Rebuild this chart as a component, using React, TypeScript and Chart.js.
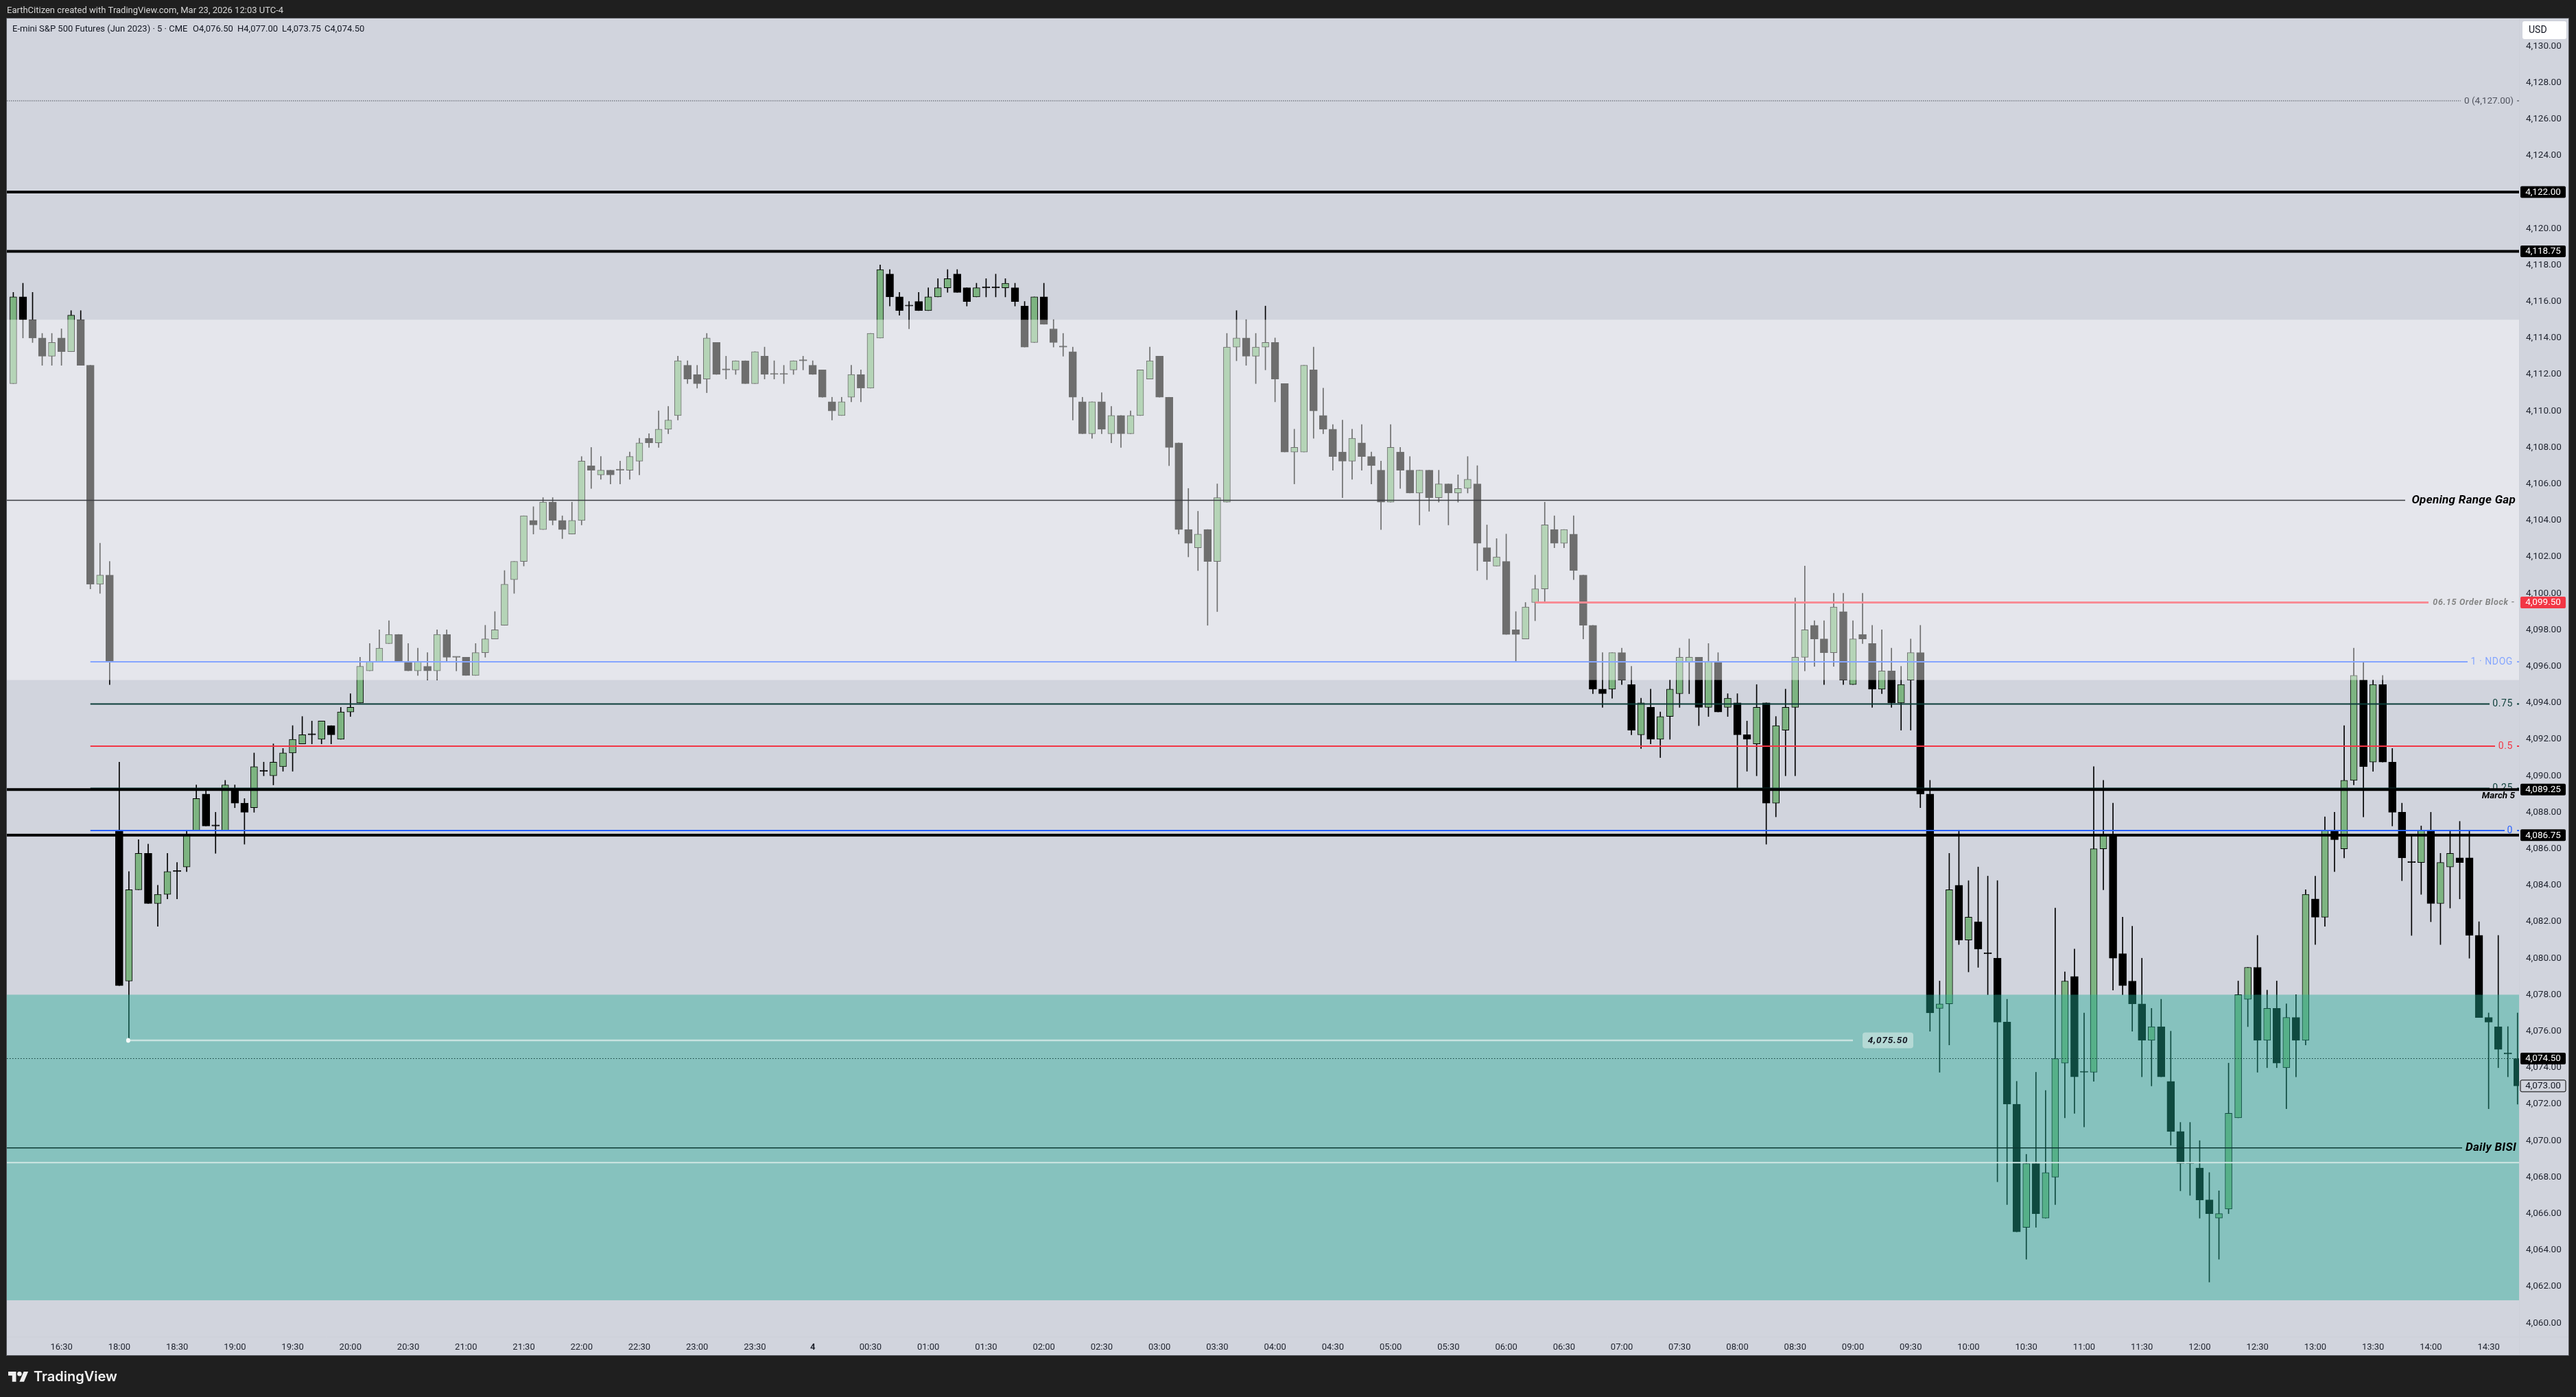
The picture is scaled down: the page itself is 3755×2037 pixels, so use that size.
import React, { useEffect, useRef } from "react";
import { Chart, registerables } from "chart.js";

Chart.register(...registerables);

const opens = [
  4111.5,4116.25,4115,4114,4113,4114,4113.25,4115,4112.5,4100.5,
  4101,4087,4078.75,4083.75,4085.75,4083,4083.5,4084.75,4085,4087,
  4089,4087.25,4087,4089.25,4088.5,4088.25,4090.25,4090,4090.5,4091.25,
  4091.75,4092.25,4092,4092.75,4092,4093.5,4094,4095.75,4096.25,4097.25,
  4097.75,4096.25,4095.75,4096,4095.75,4097.75,4096.5,4096.5,4095.5,4096.75,
  4097.5,4098.25,4100.75,4101.75,4104,4103.5,4105,4104,4103.25,4104,
  4107,4106.5,4106.75,4106.75,4106.75,4107.25,4108.5,4108.25,4109,4109.75,
  4112.5,4112,4111.75,4113.75,4112.25,4112.25,4112.75,4111.5,4113,4112,
  4112,4112.25,4112.75,4112.5,4112.25,4110.5,4109.75,4110.75,4112,4111.25,
  4114,4117.5,4116.25,4115.75,4116,4115.5,4116.25,4116.75,4117.5,4116.75,
  4116.25,4116.75,4116.75,4116.75,4116.75,4115.75,4113.75,4116.25,4114.5,4113.5,
  4113.25,4110.5,4108.75,4110.5,4108.75,4109.75,4108.75,4109.75,4111.75,4113,
  4110.75,4108.25,4103.5,4102.5,4103.5,4101.75,4105,4113.5,4114,4113,
  4113.5,4113.75,4111.5,4107.75,4107.75,4112.25,4109.75,4109,4107.75,4107.25,
  4108.25,4107.5,4106.75,4105,4107.75,4106.75,4105.5,4106.75,4105.25,4106,
  4105.5,4105.75,4106,4102.5,4101.5,4101.75,4098,4097.5,4099.5,4100.25,
  4103.5,4102.75,4103.25,4101,4098.25,4094.75,4094.75,4096.75,4095,4092.25,
  4093.75,4092,4093.25,4094.5,4096.25,4096.5,4093.75,4096.25,4093.75,4094,
  4092.25,4091.75,4094,4088.5,4092.5,4093.75,4096.5,4098.25,4097.5,4096.75,
  4099,4095,4097.75,4097.25,4094.75,4095.75,4094,4095.25,4096.75,4089,
  4077.25,4077.5,4084,4081,4082,4080.25,4080,4076.5,4072,4065.25,
  4068.75,4065.75,4068,4074.25,4079,4073.75,4073.75,4086,4086.75,4080.25,
  4078.75,4077.5,4075.5,4076.25,4073.25,4070.5,4068.75,4068.5,4066.75,4065.75,
  4066.25,4071.25,4077.75,4079.5,4075.5,4077.25,4074,4076.75,4075.5,4083.25,
  4082.25,4087,4086,4089.75,4095.25,4090.75,4095,4090.75,4088,4085.25,
  4085.25,4087,4083,4085,4085.5,4085.5,4081.25,4076.75,4076.25,4074.75,4074.5,
];

const highs = [
  4116.5,4117,4116.5,4114.25,4114.25,4114.5,4115.5,4115.5,4112.5,4102.75,
  4101.75,4090.75,4084.75,4086.5,4086.25,4084,4085.75,4085.25,4087,4089.5,
  4089.25,4088,4089.75,4089.5,4088.75,4091.25,4090.75,4091.75,4091.5,4092.75,
  4093.25,4093,4093,4092.75,4093.75,4094.5,4096.5,4097.25,4098,4098.5,
  4097.75,4097.25,4097,4096.75,4098,4098,4096.5,4096.5,4097.25,4098.25,
  4099,4101.25,4101.75,4104.25,4104.75,4105.25,4105.25,4104.25,4105,4107.5,
  4108,4107.5,4106.75,4107.25,4107.75,4108.5,4108.75,4110,4110.25,4113,
  4112.75,4112.5,4114.25,4113.75,4113,4112.75,4112.75,4113.25,4113.5,4112.75,
  4112.5,4112.75,4113,4112.75,4112.25,4110.75,4110.75,4112.5,4112.25,4114.25,
  4118,4117.75,4116.5,4116,4116.5,4116.75,4117.25,4117.75,4117.75,4116.75,
  4117,4117.25,4117.5,4117.25,4117,4116,4116.25,4117,4115,4114.25,
  4113.5,4110.75,4110.5,4111,4110.25,4109.75,4110,4112.25,4113.5,4113,
  4110.75,4108.25,4105.75,4104.5,4103.5,4106,4114.25,4115.5,4115,4114.25,
  4115.75,4114,4111.5,4109,4112.5,4113.5,4111.25,4109.25,4109.5,4109,
  4109.25,4107.75,4107.25,4109.25,4108,4107.5,4106.75,4106.75,4106.75,4106,
  4106.5,4107.5,4107,4103.75,4103,4103.25,4099,4099.5,4101,4105,
  4104.25,4103.5,4104.25,4101,4098.25,4096.75,4096.75,4097,4096,4094.25,
  4094.75,4093.5,4095.25,4097,4097.5,4096.5,4097.25,4096.75,4094.5,4094.5,
  4093,4095,4094,4093.25,4094.75,4099.75,4101.5,4098.5,4098.5,4100,
  4100,4098.5,4100,4098.25,4098,4097,4096,4097.5,4098.25,4089.75,
  4078.75,4085.75,4087,4084.25,4085,4084.5,4084.25,4077.75,4073.25,4069.25,
  4073.75,4072.75,4082.75,4079.25,4080.5,4077,4090.5,4089.75,4088.5,4082.25,
  4081.75,4080,4077.25,4077.75,4076,4071,4071,4070,4068.25,4067.25,
  4074.25,4078.75,4079.5,4081.25,4078.25,4078.75,4077.5,4078,4083.75,4084.5,
  4087.75,4088,4092.75,4097,4096.25,4095.25,4095.5,4091.5,4088.5,4086.75,
  4087.25,4088,4085.75,4087,4087.5,4087,4082,4077,4081.25,4076.25,4077,
];

const lows = [
  4111.5,4114,4113.75,4112.5,4112.5,4112.5,4113.25,4112.5,4100.25,4100,
  4095,4078.5,4075.5,4083.75,4083,4081.75,4083.25,4083.25,4084.75,4087,
  4087.25,4085.75,4087,4088.25,4086.25,4088,4090,4089.5,4090.25,4090.25,
  4091.75,4091.75,4091.75,4091.75,4092,4093.25,4094,4095.75,4096.25,4097.25,
  4096.25,4095.75,4095.5,4095.25,4095.25,4096.25,4095.75,4095.5,4095.5,4096.5,
  4097.5,4098.25,4100,4101.5,4103.25,4103.5,4103.75,4103,4103.25,4103.75,
  4105.75,4106.25,4106,4106,4106.25,4106.5,4108,4108,4108.75,4109.5,
  4111.5,4111.25,4111,4112,4111.75,4112,4111.5,4111.5,4111.75,4111.75,
  4111.5,4112,4112.25,4112,4110.75,4109.5,4109.75,4110.5,4110.5,4111.25,
  4114,4115.75,4115.25,4114.5,4115.5,4115.5,4116.25,4116.5,4116.5,4115.75,
  4116.25,4116.25,4116.25,4116.25,4115.75,4113.5,4113.75,4114.75,4113.5,4113,
  4109.5,4108.75,4108.5,4108.75,4108.25,4108,4108.75,4109.75,4111.75,4110.75,
  4107,4103.25,4102,4101.25,4098.25,4099,4105,4112.75,4112.5,4111.5,
  4112.25,4110.5,4107.75,4106,4107.75,4108.5,4108.75,4106.75,4105.25,4106.25,
  4106.75,4106,4103.5,4105,4105.75,4105.5,4103.75,4104.5,4105,4103.75,
  4105,4105.5,4101.25,4100.75,4101.5,4097.75,4096.25,4097.5,4098.5,4099.5,
  4102.5,4102.5,4100.75,4097.5,4094.5,4093.75,4094.25,4095,4092.25,4091.5,
  4091.75,4091,4092,4093.75,4094.5,4092.75,4093.25,4093.5,4093.25,4089.25,
  4090.25,4090,4086.25,4087.75,4090,4090,4095.75,4096,4095,4096,
  4095,4095,4097.25,4093.75,4094.5,4093.75,4092.5,4092.5,4088.25,4076,
  4073.75,4075.25,4080.75,4079.25,4079.5,4078,4067.75,4066.5,4065,4063.5,
  4065.25,4065.75,4066.5,4071.25,4071.5,4070.75,4073.25,4083.75,4078.25,4078,
  4076,4073.5,4073,4073.5,4069.75,4067.25,4067,4065.75,4062.25,4063.5,
  4066,4071.25,4076.25,4073.75,4074,4074,4071.75,4073.5,4075.25,4080.75,
  4081.75,4084.75,4085.5,4089.5,4087.75,4090.25,4090.75,4087.25,4084.25,4081.25,
  4083.5,4082,4080.75,4082.75,4083.25,4080,4076.75,4071.75,4074,4073.5,4072,
];

const closes = [
  4116.25,4115,4114,4113,4113.75,4113.25,4115.25,4112.5,4100.5,4101,
  4096.25,4078.5,4083.75,4085.75,4083,4083.5,4084.75,4084.75,4086.75,4088.75,
  4087.25,4087.25,4089.5,4088.5,4088,4090.5,4090.25,4090.75,4091.25,4092,
  4092.25,4092.25,4093,4092.25,4093.5,4093.75,4096,4096.25,4097,4097.75,
  4096.25,4095.75,4096.25,4095.75,4097.75,4096.5,4096.5,4095.5,4096.75,4097.5,
  4098,4100.5,4101.75,4104.25,4103.75,4105,4104,4103.5,4104,4107.25,
  4106.75,4106.75,4106.5,4106.75,4107.5,4108.25,4108.25,4109,4109.5,4112.75,
  4111.75,4111.5,4114,4112,4112.25,4112.75,4111.5,4113.25,4112,4112,
  4112,4112.75,4112.75,4112,4110.75,4110,4110.5,4112,4111.25,4114.25,
  4117.75,4116.25,4115.5,4115.75,4115.5,4116.25,4116.75,4117.25,4116.5,4116,
  4116.75,4116.75,4116.75,4117,4116,4113.5,4116.25,4114.75,4113.75,4113.5,
  4110.75,4108.75,4110.5,4109,4109.75,4108.75,4109.75,4112.25,4112.75,4110.75,
  4108,4103.5,4102.75,4103.25,4101.75,4105.25,4113.5,4114,4113,4113.5,
  4113.75,4111.75,4107.75,4108,4112.5,4110,4109,4107.5,4107.25,4108.5,
  4107.5,4107,4105,4108,4106.75,4105.5,4106.75,4105.25,4106,4105.5,
  4105.75,4106.25,4102.75,4101.75,4102,4097.75,4097.75,4099.25,4100.25,4103.75,
  4102.75,4103.5,4101.25,4098.25,4094.75,4094.5,4096.75,4095.25,4092.5,4094,
  4092,4093.25,4094.75,4096.5,4096.5,4093.75,4096.25,4093.5,4094.25,4092.25,
  4092,4093.75,4088.5,4092.75,4093.75,4096.5,4098,4097.5,4096.75,4099.25,
  4095.25,4097.5,4097.5,4094.75,4095.75,4094,4095,4096.75,4089,4077,
  4077.5,4083.75,4081,4082.25,4080.5,4080.25,4076.5,4072,4065,4068.75,
  4066,4068.25,4074.5,4078.75,4073.5,4073.75,4086,4086.75,4080,4078.5,
  4077.5,4075.5,4076.25,4073.5,4070.5,4068.75,4068.75,4066.75,4066,4066,
  4071.5,4078,4079.5,4075.5,4077.25,4074.25,4076.75,4075.5,4083.5,4082.25,
  4087,4086.5,4089.75,4095.5,4090.5,4095,4090.75,4088,4085.5,4085.25,
  4087,4083,4085.25,4085.75,4085.25,4081.25,4076.75,4076.5,4075,4074.75,4073,
];

const timeLabels = [
  "16:30","18:00","18:30","19:00","19:30","20:00","20:30","21:00","21:30","22:00","22:30","23:00","23:30","4",
  "00:30","01:00","01:30","02:00","02:30","03:00","03:30","04:00","04:30","05:00","05:30","06:00","06:30",
  "07:00","07:30","08:00","08:30","09:00","09:30","10:00","10:30","11:00","11:30","12:00","12:30","13:00","13:30","14:00","14:30",
];
const priceTicks = [
  4060,4062,4064,4066,4068,4070,4072,4074,4076,4078,4080,4082,4084,4086,4088,4090,4092,4094,4096,4098,
  4100,4102,4104,4106,4108,4110,4112,4114,4116,4118,4120,4122,4124,4126,4128,4130,
];

const gapZone = [4115, 4095.25];
const bisiZone = [4078, 4061.25];
const fibLow = 4087;
const fibHigh = 4096.25;
const fibLevels = [0, 0.25, 0.5, 0.75, 1];
const fibTop = 4127;
const blackLevels = [4122, 4118.75, 4089.25, 4086.75];
const orderBlock = 4099.5;
const gapMid = 4105.1;
const bisiMid = 4069.6;
const bisiLow = 4068.8;
const lowMark = 4075.5;
const lastPrice = 4074.5;
const lastClose = 4073;
const firstTickBar = 5;
const barsPerTick = 6;

const FONT = "Roboto, sans-serif";
const BG = "#1f1f1f";
const PANE = "#d1d4dd";
const UP = "#7db481";
const fmt = (v: number) =>
  v.toLocaleString("en-US", { minimumFractionDigits: 2, maximumFractionDigits: 2 });

function overlayPlugin() {
  const text = (
    ctx: any, s: string, x: number, y: number, font: string, color: string,
    align: CanvasTextAlign = "right", spacing = "0px",
  ) => {
    ctx.font = font;
    ctx.fillStyle = color;
    ctx.textAlign = align;
    ctx.textBaseline = "middle";
    (ctx as any).letterSpacing = spacing;
    ctx.fillText(s, x, y);
    (ctx as any).letterSpacing = "0px";
  };
  const hline = (
    ctx: any, y: number, x1: number, x2: number, color: string, w: number, dash: number[] = [],
  ) => {
    ctx.save();
    ctx.strokeStyle = color;
    ctx.lineWidth = w;
    ctx.setLineDash(dash);
    ctx.beginPath();
    ctx.moveTo(x1, y);
    ctx.lineTo(x2, y);
    ctx.stroke();
    ctx.restore();
  };
  const tag = (ctx: any, y: number, s: string, bg: string, fg: string, outline = false) => {
    ctx.beginPath();
    ctx.roundRect(3674, y - 8.5, 66, 17, 2);
    ctx.fillStyle = bg;
    ctx.fill();
    if (outline) {
      ctx.strokeStyle = "#000";
      ctx.lineWidth = 1;
      ctx.stroke();
    }
    text(ctx, s, 3707, y + 0.5, `13.5px ${FONT}`, fg, "center");
  };
  return {
    id: "overlay",
    beforeDraw(chart: any) {
      const { ctx, chartArea: a } = chart;
      ctx.save();
      ctx.fillStyle = BG;
      ctx.fillRect(0, 0, chart.width, chart.height);
      ctx.fillStyle = PANE;
      ctx.fillRect(a.left, a.top, 3744 - a.left, 1976 - a.top);
      ctx.strokeStyle = "#55575c";
      ctx.lineWidth = 1;
      ctx.strokeRect(a.left - 0.5, a.top - 0.5, 3744 - a.left + 1, 1976 - a.top + 1);
      ctx.strokeStyle = "#cdd0d9";
      ctx.beginPath();
      ctx.moveTo(a.right + 0.5, a.top);
      ctx.lineTo(a.right + 0.5, 1976);
      ctx.moveTo(a.left, a.bottom + 0.5);
      ctx.lineTo(3744, a.bottom + 0.5);
      ctx.stroke();
      ctx.restore();
    },
    afterDatasetsDraw(chart: any) {
      const { ctx, chartArea: a, scales } = chart;
      const y = (p: number) => scales.y.getPixelForValue(p);
      const x = (b: number) => scales.x.getPixelForValue(b);
      ctx.save();
      ctx.beginPath();
      ctx.rect(a.left, a.top, a.right - a.left, a.bottom - a.top);
      ctx.clip();

      // drawings that sit below the zones
      const fibStart = x(8);
      const fibColors = ["#2962ff", "#0b3d38", "#f23645", "#0b3d38", "#2962ff"];
      const fibText = ["0", "0.25", "0.5", "0.75", "1 · NDOG"];
      const fibEnds = [3651, 3629, 3637, 3629, 3597];
      fibLevels.forEach((lvl, i) => {
        const py = y(fibLow + (fibHigh - fibLow) * lvl);
        hline(ctx, py, fibStart, fibEnds[i], fibColors[i], 2);
        hline(ctx, py, 3669, a.right, fibColors[i], 2);
        text(ctx, fibText[i], 3663, py + 0.5, `14px ${FONT}`, fibColors[i], "right", "0.6px");
      });
      const oy = y(orderBlock);
      hline(ctx, oy, x(158), 3540, "#f23645", 3);
      text(ctx, "06.15 Order Block -", 3666, oy, `italic bold 12.5px ${FONT}`, "#262626", "right", "0.7px");

      // zones lie over candles and the drawings above
      ctx.fillStyle = "rgba(255,255,255,0.43)";
      ctx.fillRect(a.left, y(gapZone[0]), a.right - a.left, y(gapZone[1]) - y(gapZone[0]));
      ctx.fillStyle = "rgba(34,171,148,0.43)";
      ctx.fillRect(a.left, y(bisiZone[0]), a.right - a.left, y(bisiZone[1]) - y(bisiZone[0]));

      // drawings on top of the zones
      hline(ctx, y(fibTop), a.left, 3587, "#50535e", 1.2, [1.5, 1.5]);
      hline(ctx, y(fibTop), 3669, a.right, "#50535e", 1.2);
      text(ctx, "0 (4,127.00)", 3664, y(fibTop) + 0.5, `13.5px ${FONT}`, "#50535e", "right");

      blackLevels.forEach((lvl) => hline(ctx, y(lvl), a.left, a.right, "#000", 4));

      hline(ctx, y(gapMid), a.left, 3506, "#3a3c41", 1.5);
      text(ctx, "Opening Range Gap", 3667, y(gapMid), `italic bold 17px ${FONT}`, "#000", "right", "0.3px");
      hline(ctx, y(bisiMid), a.left, 3589, "#0c3a35", 1.5);
      text(ctx, "Daily BISI", 3668, y(bisiMid), `italic bold 17px ${FONT}`, "#000", "right", "0.3px");
      text(ctx, "March 5", 3666, 1161, `italic bold 13.5px ${FONT}`, "#000");

      hline(ctx, y(bisiLow), a.left, a.right, "#cfe6e3", 2);
      hline(ctx, y(lastPrice), a.left, a.right, "#0e3d38", 1.2, [1.5, 2.5]);

      const markStart = x(12);
      hline(ctx, y(lowMark), markStart, x(191), "#c9e3e0", 2.5);
      ctx.fillStyle = "#f4faf9";
      ctx.beginPath();
      ctx.ellipse(markStart - 1, y(lowMark), 3, 3.5, 0, 0, Math.PI * 2);
      ctx.fill();
      ctx.beginPath();
      ctx.roundRect(2715, y(lowMark) - 11.5, 74, 23, 4);
      ctx.fillStyle = "#b5d9d5";
      ctx.fill();
      text(ctx, "4,075.50", 2752, y(lowMark) + 0.5, `italic bold 13.5px ${FONT}`, "#131722", "center", "0.8px");
      ctx.restore();
    },
    afterDraw(chart: any) {
      const { ctx, scales } = chart;
      const y = (p: number) => scales.y.getPixelForValue(p);
      ctx.save();
      blackLevels.forEach((lvl) => tag(ctx, y(lvl), fmt(lvl), "#000", "#fff"));
      tag(ctx, y(orderBlock), fmt(orderBlock), "#f23645", "#fff");
      tag(ctx, y(lastPrice), fmt(lastPrice), "#000", "#fff");
      tag(ctx, y(lastClose), fmt(lastClose), PANE, "#131722", true);

      ctx.beginPath();
      ctx.roundRect(3677, 31, 64, 26, 3);
      ctx.fillStyle = "#fff";
      ctx.fill();
      text(ctx, "USD", 3686, 44.5, `14px ${FONT}`, "#131722", "left");

      text(ctx, "EarthCitizen created with TradingView.com, Mar 23, 2026 12:03 UTC-4", 10, 15.5,
        `13px ${FONT}`, "#d5d5d5", "left");
      text(ctx, "E-mini S&P 500 Futures (Jun 2023) · 5 · CME", 18, 42.5, `13px ${FONT}`, "#131722", "left");
      text(ctx, "O4,076.50", 281, 42.5, `13px ${FONT}`, "#131722", "left");
      text(ctx, "H4,077.00", 346, 42.5, `13px ${FONT}`, "#131722", "left");
      text(ctx, "L4,073.75", 411, 42.5, `13px ${FONT}`, "#131722", "left");
      text(ctx, "C4,074.50", 473, 42.5, `13px ${FONT}`, "#131722", "left");

      ctx.save();
      ctx.translate(12, 2000 - 4 * 0.82);
      ctx.scale(0.82, 0.82);
      ctx.fillStyle = "#f0f0f0";
      ctx.fill(new Path2D("M14 22H7V11H0V4h14v18zM28 22h-8l7.5-18h8L28 22z"));
      ctx.beginPath();
      ctx.arc(20, 8, 4, 0, Math.PI * 2);
      ctx.fill();
      ctx.restore();
      text(ctx, "TradingView", 49, 2008, `600 20px Inter, ${FONT}`, "#f0f0f0", "left");
      ctx.restore();
    },
  };
}

export default function App() {
  const ref = useRef<HTMLCanvasElement | null>(null);
  useEffect(() => {
    if (!ref.current) return;
    document.body.style.background = BG;
    const indices = opens.map((_, i) => i);
    const rising = indices.filter((i) => closes[i] > opens[i]);
    const falling = indices.filter((i) => closes[i] <= opens[i]);
    const chart = new Chart(ref.current, {
      type: "bar",
      data: {
        datasets: [
          {
            label: "Wick",
            data: indices.map((i) => ({ x: i, y: [lows[i], highs[i]] })),
            backgroundColor: "#000",
            barThickness: 1,
            minBarLength: 1,
            grouped: false,
            order: 3,
          },
          {
            label: "Rising body",
            data: rising.map((i) => ({ x: i, y: [opens[i], closes[i]] })),
            backgroundColor: UP,
            borderColor: "#000",
            borderWidth: 1,
            borderSkipped: false,
            barThickness: 10,
            grouped: false,
            order: 2,
          },
          {
            label: "Falling body",
            data: falling.map((i) => ({ x: i, y: [opens[i], closes[i]] })),
            backgroundColor: "#000",
            borderColor: "#000",
            borderWidth: 1,
            borderSkipped: false,
            barThickness: 11,
            minBarLength: 1.5,
            grouped: false,
            order: 1,
          },
        ] as any,
      },
      options: {
        animation: false,
        responsive: false,
        devicePixelRatio: 1,
        layout: { padding: { left: 10, top: 27, right: 11, bottom: 61 } },
        plugins: { legend: { display: false }, tooltip: { enabled: false } },
        scales: {
          x: {
            type: "linear",
            min: -0.67,
            max: 260.16,
            offset: false,
            grid: { display: false, drawTicks: false },
            border: { display: false },
            afterBuildTicks: (s: any) => {
              s.ticks = timeLabels.map((_, i) => ({ value: firstTickBar + barsPerTick * i }));
            },
            afterFit: (s: any) => {
              s.height = 27;
            },
            ticks: {
              autoSkip: false,
              maxRotation: 0,
              padding: 8,
              color: "#1e222d",
              font: (c: any) => ({
                family: FONT,
                size: 13,
                weight: c.tick && c.tick.value === firstTickBar + barsPerTick * 13 ? "bold" : "normal",
              }),
              callback: (v: any) => timeLabels[(Number(v) - firstTickBar) / barsPerTick] ?? "",
            },
          },
          y: {
            type: "linear",
            position: "right",
            min: 4059.256,
            max: 4131.511,
            grid: { display: false, drawTicks: false },
            border: { display: false },
            afterBuildTicks: (s: any) => {
              s.ticks = priceTicks.map((value) => ({ value }));
            },
            afterFit: (s: any) => {
              s.width = 72;
            },
            ticks: {
              autoSkip: false,
              padding: 10,
              color: "#1e222d",
              font: { family: FONT, size: 13.5 },
              callback: (v: any) => fmt(Number(v)),
            },
          },
        },
      } as any,
      plugins: [overlayPlugin()],
    });
    return () => chart.destroy();
  }, []);
  return (
    <div style={{ position: "fixed", left: 0, top: 0, width: 3755, height: 2037 }}>
      <canvas ref={ref} width={3755} height={2037} style={{ display: "block", width: 3755, height: 2037 }} />
    </div>
  );
}
